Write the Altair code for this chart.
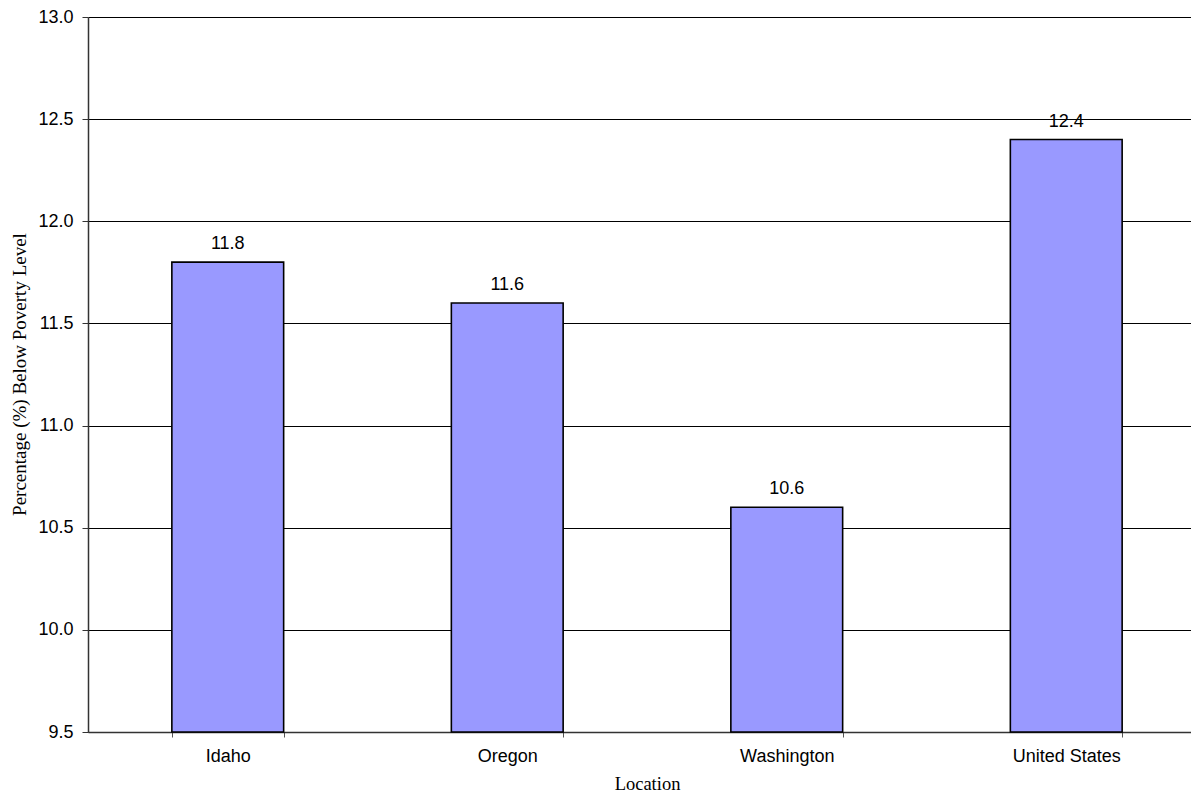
import altair as alt
import pandas as pd

locations = ["Idaho", "Oregon", "Washington", "United States"]
values = [11.8, 11.6, 10.6, 12.4]
y_ticks = [9.5, 10.0, 10.5, 11.0, 11.5, 12.0, 12.5, 13.0]

df = pd.DataFrame({"Location": locations, "Value": values})

SANS = "Liberation Sans"
SERIF = "Liberation Serif"

x_enc = alt.X(
    "Location:N",
    sort=locations,
    title="Location",
    scale=alt.Scale(range=[0, 1118], paddingInner=0.6, paddingOuter=0.3),
    axis=alt.Axis(
        labelAngle=0,
        labelFont=SANS,
        labelFontSize=18,
        labelColor="black",
        labelPadding=10,
        tickBand="extent",
        tickSize=5,
        tickColor="#555",
        domainColor="#333",
        domainWidth=1.5,
        titleFont=SERIF,
        titleFontSize=18.5,
        titleFontWeight="normal",
        titleColor="black",
        titleX=559,
        titleY=51,
        titleBaseline="middle",
        grid=False,
    ),
)

y_scale = alt.Scale(domain=[9.5, 13.0], zero=False, nice=False)

bars = alt.Chart(df).mark_bar(
    color="#9999FF", stroke="black", strokeWidth=1.6
).encode(
    x=x_enc,
    y=alt.Y(
        "Value:Q",
        scale=y_scale,
        title="Percentage (%) Below Poverty Level",
        axis=alt.Axis(
            values=y_ticks,
            format=".1f",
            labelFont=SANS,
            labelFontSize=18,
            labelColor="black",
            labelPadding=9,
            tickSize=6,
            tickColor="#333",
            domainColor="#333",
            domainWidth=1.5,
            grid=True,
            gridColor="black",
            gridWidth=1,
            titleFont=SERIF,
            titleFontSize=19,
            titleFontWeight="normal",
            titleColor="black",
            titleX=-69,
            titleY=357,
            titleAngle=-90,
            titleBaseline="middle",
            titleAlign="center",
        ),
    ),
    y2=alt.datum(9.5),
)

labels = alt.Chart(df).mark_text(
    font=SANS, fontSize=18, color="black", baseline="alphabetic", dy=-13
).encode(
    x=alt.X("Location:N", sort=locations),
    y=alt.Y("Value:Q", scale=y_scale),
    text=alt.Text("Value:Q", format=".1f"),
)

chart = (
    alt.layer(bars, labels)
    .properties(
        width=1103,
        height=715,
        autosize=alt.AutoSizeParams(type="none"),
        padding={"left": 80, "right": 0, "top": 9, "bottom": 61},
        background="white",
    )
    .configure_view(stroke=None)
)

chart.save("out.html", embed_options={"renderer": "svg", "actions": False})
